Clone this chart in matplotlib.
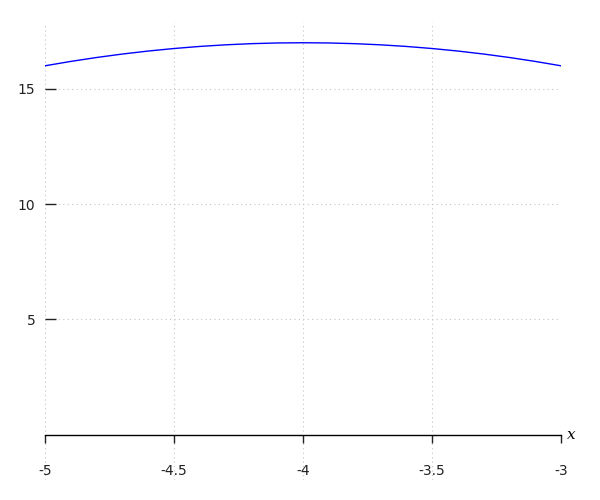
import matplotlib
matplotlib.use("Agg")
import matplotlib.pyplot as plt
import matplotlib.transforms as mtransforms

# Curve points
x_vals = [-5.0, -4.9, -4.8, -4.7, -4.6, -4.5, -4.4, -4.3, -4.2, -4.1, -4.0,
          -3.9, -3.8, -3.7, -3.6, -3.5, -3.4, -3.3, -3.2, -3.1, -3.0]
y_vals = [16.0, 16.19, 16.36, 16.51, 16.64, 16.75, 16.84, 16.91, 16.96, 16.99, 17.0,
          16.99, 16.96, 16.91, 16.84, 16.75, 16.64, 16.51, 16.36, 16.19, 16.0]

x_ticks = [-5, -4.5, -4, -3.5, -3]
x_tick_labels = ["-5", "-4.5", "-4", "-3.5", "-3"]
y_ticks = [5, 10, 15]
y_tick_labels = ["5", "10", "15"]

fig = plt.figure(figsize=(6, 5), dpi=100)
ax = fig.add_axes([45 / 600, 0.04, (561 - 45) / 600, 0.956 - 0.04])

ax.plot(x_vals, y_vals, color="blue", linewidth=1)

ax.set_xlim(-5, -3)
ax.set_ylim(-1.97, 17.9)

for s in ["top", "right", "left"]:
    ax.spines[s].set_visible(False)
ax.spines["bottom"].set_position(("data", 0))
ax.spines["bottom"].set_linewidth(1)

ax.set_xticks(x_ticks)
ax.set_xticklabels(x_tick_labels)
ax.set_yticks(y_ticks)
ax.set_yticklabels(y_tick_labels)
ax.tick_params(axis="x", direction="out", length=6, width=1, pad=15, labelsize=10, colors="#222222")
ax.tick_params(axis="y", direction="in", length=8, width=1, pad=7, labelsize=10, colors="#222222")

ax.grid(True, linestyle=(0, (1, 3)), color="#c4c4c4", linewidth=0.8)

trans = mtransforms.blended_transform_factory(ax.transAxes, ax.transData)
ax.text(1.02, 0.0, "x", transform=trans, clip_on=False,
        fontsize=11, family="DejaVu Serif", style="italic", va="center", ha="center")

fig.savefig("out.png", dpi=100)
